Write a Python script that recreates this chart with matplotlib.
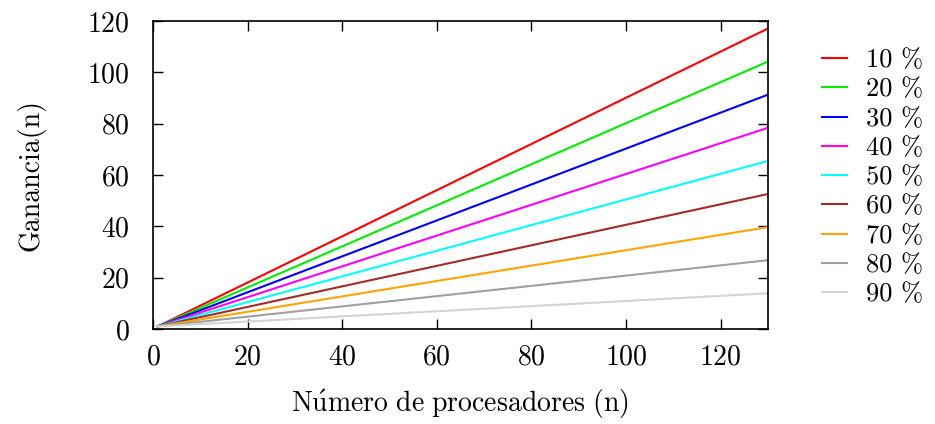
import matplotlib
matplotlib.use("Agg")
import matplotlib.pyplot as plt

plt.rcParams['font.family'] = ['cmr10', 'DejaVu Serif']
plt.rcParams['mathtext.fontset'] = 'cm'
plt.rcParams['axes.formatter.use_mathtext'] = True

# processors (first and last point of each straight line)
procs = [1, 130]
labels = ["10 %", "20 %", "30 %", "40 %", "50 %", "60 %", "70 %", "80 %", "90 %"]
s10 = [1, 117.1]
s20 = [1, 104.2]
s30 = [1, 91.3]
s40 = [1, 78.4]
s50 = [1, 65.5]
s60 = [1, 52.6]
s70 = [1, 39.7]
s80 = [1, 26.8]
s90 = [1, 13.9]
series = [s10, s20, s30, s40, s50, s60, s70, s80, s90]
colors = ['#ff0000', '#00ee00', '#0000ff', '#ff00ff', '#00ffff',
          '#a52a2a', '#ffa500', '#a0a0a0', '#d3d3d3']

fig = plt.figure(figsize=(9.35, 4.24), dpi=100)
ax = fig.add_axes([0.1636, 0.2241, 0.8214 - 0.1636, 0.9505 - 0.2241])
for s, c, l in zip(series, colors, labels):
    ax.plot(procs, s, color=c, lw=1.5, label=l)

ax.set_xlim(0, 130)
ax.set_ylim(0, 120)
ax.set_xticks(range(0, 121, 20))
ax.set_yticks(range(0, 121, 20))
ax.tick_params(direction='in', top=True, right=True, length=7, width=1,
               labelsize=20)
ax.tick_params(axis='x', pad=11)
ax.tick_params(axis='y', pad=17)
for sp in ax.spines.values():
    sp.set_linewidth(1.2)
ax.set_xlabel(r"$\mathrm{N\acute{u}mero\ de\ procesadores\ (n)}$", fontsize=20, labelpad=12)
ax.set_ylabel("Ganancia(n)", fontsize=20, labelpad=30)

ax.legend(loc='upper left', bbox_to_anchor=(1.071, 0.945), frameon=False,
          fontsize=19, handlelength=0.95, handletextpad=0.7,
          labelspacing=0.21, borderaxespad=0)

fig.savefig("out.png", dpi=100)
